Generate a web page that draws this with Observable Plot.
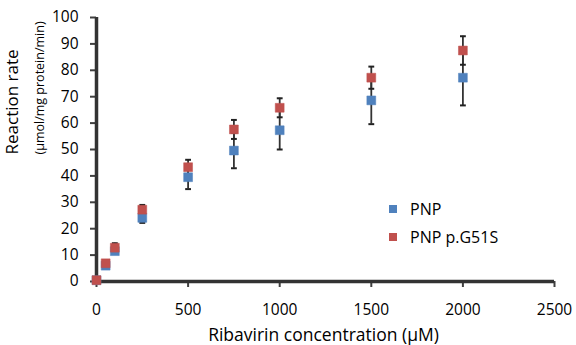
<!DOCTYPE html>
<html>
<head>
<meta charset="utf-8">
<script src="https://cdn.jsdelivr.net/npm/d3@7"></script>
<script src="https://cdn.jsdelivr.net/npm/@observablehq/plot@0.6"></script>
<style>
  html, body { margin: 0; padding: 0; background: #fff; }
  #wrap { position: relative; width: 576px; height: 345px; font-family: "Open Sans", sans-serif; }
  .legend { position: absolute; left: 389px; font-size: 16px; color: #000; display: flex; align-items: center; }
  .legend span.sw { display: inline-block; width: 8px; height: 8px; margin-right: 13px; }
</style>
</head>
<body>
<div id="wrap"></div>
<script>
const concentrations = [0, 50, 100, 250, 500, 750, 1000, 1500, 2000];
const pnp = [0.5, 6, 11.5, 24.1, 39.5, 49.6, 57.3, 68.6, 77.2];
const pnpSD = [0.3, 0.5, 1, 1.9, 4.5, 6.7, 7.3, 9, 10.5];
const g51s = [0.5, 6.9, 12.8, 27.2, 43.3, 57.6, 65.8, 77.2, 87.5];
const g51sSD = [0.3, 0.5, 1.7, 1.8, 2.8, 3.6, 3.6, 4.2, 5.4];
const seriesNames = ["PNP", "PNP p.G51S"];
const seriesColors = ["#4F81BD", "#C0504D"];
const xTicks = [0, 500, 1000, 1500, 2000, 2500];
const yTicks = [0, 10, 20, 30, 40, 50, 60, 70, 80, 90, 100];

const rows = [];
[[pnp, pnpSD], [g51s, g51sSD]].forEach(([vals, sds], s) => {
  concentrations.forEach((c, i) => rows.push({series: seriesNames[s], x: c, y: vals[i], lo: vals[i] - sds[i], hi: vals[i] + sds[i]}));
});

const capSymbol = {
  draw(ctx, size) {
    const r = Math.sqrt(size) / 2;
    ctx.moveTo(-r, 0);
    ctx.lineTo(r, 0);
  }
};

const marks = [
  Plot.axisY({ticks: yTicks, tickSize: 6, tickPadding: 12, tickFormat: d => String(d), label: null, fontSize: 15.5, stroke: "#404040", strokeWidth: 2}),
  Plot.axisX({ticks: xTicks, tickSize: 6, tickPadding: 16, tickFormat: d => String(d), label: null, fontSize: 15.5, stroke: "#404040", strokeWidth: 2}),
  Plot.ruleX([0], {stroke: "#333", strokeWidth: 3.5}),
  Plot.ruleY([0], {stroke: "#333", strokeWidth: 3.5}),
];
seriesNames.forEach((name, s) => {
  const d = rows.filter(r => r.series === name);
  marks.push(
    Plot.ruleX(d, {x: "x", y1: "lo", y2: "hi", stroke: "#333", strokeWidth: 1.8}),
    Plot.dot(d, {x: "x", y: "lo", symbol: capSymbol, r: 3.3, stroke: "#222", strokeWidth: 2}),
    Plot.dot(d, {x: "x", y: "hi", symbol: capSymbol, r: 3.3, stroke: "#222", strokeWidth: 2}),
  );
});
seriesNames.forEach((name, s) => {
  const d = rows.filter(r => r.series === name);
  marks.push(Plot.dot(d, {x: "x", y: "y", symbol: "square", r: 5, fill: seriesColors[s], stroke: seriesColors[s], strokeOpacity: 0.5, strokeWidth: 1}));
});
marks.push(
  Plot.text(["Reaction rate"], {frameAnchor: "left", dx: -84, dy: 5, rotate: -90, fontSize: 17, fill: "#000", fontFamily: "Open Sans"}),
  Plot.text(["(µmol/mg protein/min)"], {frameAnchor: "left", dx: -57, dy: 5, rotate: -90, fontSize: 12.5, fill: "#000", fontFamily: "Open Sans"}),
  Plot.text(["Ribavirin concentration (µM)"], {frameAnchor: "bottom", lineAnchor: "bottom", dy: 59, dx: -2, fontSize: 17.5, fill: "#000", fontFamily: "Open Sans"})
);

const chart = Plot.plot({
  width: 576,
  height: 345,
  marginLeft: 96,
  marginRight: 22,
  marginTop: 17,
  marginBottom: 64,
  style: {fontFamily: "Open Sans", color: "#000", background: "#fff"},
  x: {domain: [0, 2500]},
  y: {domain: [0, 100]},
  marks
});
const wrap = document.getElementById("wrap");
wrap.appendChild(chart);
seriesNames.forEach((name, s) => {
  const div = document.createElement("div");
  div.className = "legend";
  div.style.top = (198 + s * 28) + "px";
  div.innerHTML = `<span class="sw" style="background:${seriesColors[s]}"></span>${name}`;
  wrap.appendChild(div);
});
</script>
</body>
</html>
